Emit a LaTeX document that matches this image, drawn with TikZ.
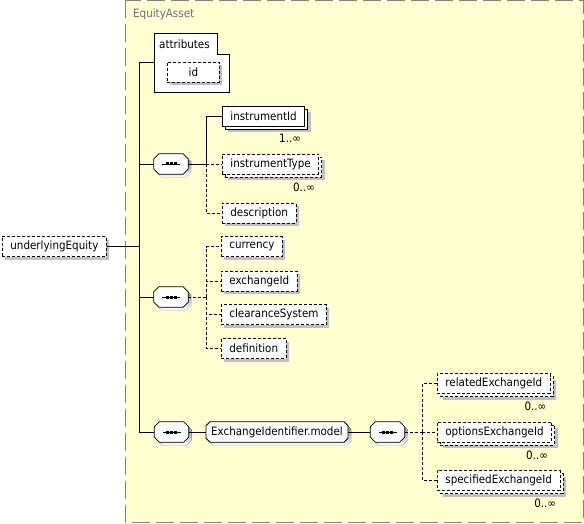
\documentclass[tikz,border=0pt]{standalone}
\usepackage{fontspec}
\setmainfont{DejaVu Sans Condensed}
\usetikzlibrary{shadows,backgrounds}

\definecolor{panel}{RGB}{255,255,208}
\definecolor{panelline}{RGB}{128,128,128}
\definecolor{shade}{RGB}{192,192,192}
\definecolor{titlegray}{RGB}{110,110,130}

\tikzset{
  box/.style={draw, fill=white, line width=.8pt, anchor=west, minimum height=20pt,
    inner xsep=8pt, inner ysep=0pt},
  elem/.style={box, drop shadow={shadow xshift=3pt, shadow yshift=-3pt, fill=shade, opacity=1}},
  optelem/.style={elem, dash pattern=on 3pt off 2pt},
  manyelem/.style={box,
    drop shadow={shadow xshift=6pt, shadow yshift=-6pt, fill=shade, opacity=1},
    copy shadow={shadow xshift=3pt, shadow yshift=-3pt, fill=white, draw=black, solid}},
  optmanyelem/.style={box, dash pattern=on 3pt off 2pt,
    drop shadow={shadow xshift=6pt, shadow yshift=-6pt, fill=shade, opacity=1},
    copy shadow={shadow xshift=3pt, shadow yshift=-3pt, fill=white, draw=black, dash pattern=on 3pt off 2pt}},
  seq/.style={minimum width=34pt, minimum height=20pt, inner sep=0pt},
  group/.style={anchor=west, minimum height=20pt, inner xsep=5pt, inner ysep=0pt},
  mult/.style={anchor=north east, inner sep=0pt},
  link/.style={line width=.8pt},
  optlink/.style={line width=.8pt, dash pattern=on 3pt off 2pt}
}

% chamfered outline round a node
\newcommand{\chamferpath}[2]{([xshift=#2]#1.north west) -- ([xshift=-#2]#1.north east)
  -- ([yshift=-#2]#1.north east) -- ([yshift=#2]#1.south east)
  -- ([xshift=-#2]#1.south east) -- ([xshift=#2]#1.south west)
  -- ([yshift=#2]#1.south west) -- ([yshift=-#2]#1.north west) -- cycle}
\newcommand{\chamfer}[2]{%
  \fill[shade, transform canvas={shift={(3pt,-3pt)}}] \chamferpath{#1}{#2};
  \filldraw[fill=white, line width=.8pt] \chamferpath{#1}{#2};}

\begin{document}
\begin{tikzpicture}[x=1pt, y=-1pt, font=\fontsize{11.5}{14}\selectfont]
 \useasboundingbox (0,0) rectangle (584,524);
 \node[anchor=west, inner sep=0pt, text=titlegray] (title) at (133,14) {EquityAsset};

 % attributes
 \draw[fill=white, line width=.8pt] (154,33) -- (217,33) -- (217,54) -- (229,54) -- (229,92) -- (154,92) -- cycle;
 \node[anchor=west, inner sep=0pt] (attributes) at (159,44) {attributes};
 \node[optelem, minimum width=52pt] (id) at (167,72) {id};
 \coordinate (attrin) at (154,62);

 % root element
 \node[optelem] (underlyingEquity) at (2,246.5) {underlyingEquity};

 % sequences
 \node[seq] (seqA) at (171,164) {};
 \node[seq] (seqB) at (171,297) {};
 \node[seq] (seqC) at (171.5,432) {};
 \node[seq] (seqD) at (387.5,432) {};
 \foreach \s in {seqA,seqB,seqC,seqD}
 {
     \draw[link] ([xshift=-9pt]\s.center) -- ([xshift=9pt]\s.center);
     \foreach \d in {-4,0,4}
         \fill ([xshift=\d pt]\s.center) +(-1.5,-1.5) rectangle +(1.5,1.5);
 }

 % first sequence
 \node[manyelem] (instrumentId) at (222,116) {instrumentId};
 \node[mult] at ([xshift=-4pt, yshift=-8pt]instrumentId.south east) {1..∞};
 \node[optmanyelem] (instrumentType) at (222,164) {instrumentType};
 \node[mult] at ([xshift=-4pt, yshift=-8pt]instrumentType.south east) {0..∞};
 \node[optelem] (description) at (222,213) {description};

 % second sequence
 \node[optelem] (currency) at (221,246.5) {currency};
 \node[optelem] (exchangeId) at (221,281) {exchangeId};
 \node[optelem] (clearanceSystem) at (221,314.5) {clearanceSystem};
 \node[optelem] (definition) at (221,348.5) {definition};

 % group
 \node[group] (model) at (206,432) {ExchangeIdentifier.model};
 \node[optmanyelem] (relatedExchangeId) at (437,383.5) {relatedExchangeId};
 \node[mult] at ([xshift=-4pt, yshift=-8pt]relatedExchangeId.south east) {0..∞};
 \node[optmanyelem] (optionsExchangeId) at (437,432) {optionsExchangeId};
 \node[mult] at ([xshift=-4pt, yshift=-8pt]optionsExchangeId.south east) {0..∞};
 \node[optmanyelem] (specifiedExchangeId) at (437,480.5) {specifiedExchangeId};
 \node[mult] at ([xshift=-4pt, yshift=-8pt]specifiedExchangeId.south east) {0..∞};

 % trunk
 \coordinate (trunktop) at (139,62);
 \coordinate (trunkend) at (139,432);
 \draw[link] (attrin) -- (trunktop) -- (trunkend) -- (seqC);
 \draw[link] (underlyingEquity) -- (trunktop |- underlyingEquity);
 \draw[link] (trunktop |- seqA) -- (seqA);
 \draw[link] (trunktop |- seqB) -- (seqB);

 % forks
 \coordinate (forkA) at (206,164);
 \draw[link] (seqA) -- (forkA) |- (instrumentId);
 \draw[optlink] (forkA) -- (instrumentType);
 \draw[optlink] (forkA) |- (description);

 \coordinate (forkB) at (206,297);
 \draw[optlink] (seqB) -- (forkB);
 \foreach \e in {currency,exchangeId,clearanceSystem,definition}
     \draw[optlink] (forkB) |- (\e);

 \draw[link] (seqC) -- (model);
 \draw[link] (model) -- (seqD);
 \coordinate (forkD) at (422,432);
 \draw[optlink] (seqD) -- (forkD);
 \foreach \e in {relatedExchangeId,optionsExchangeId,specifiedExchangeId}
     \draw[optlink] (forkD) |- (\e);

 \begin{pgfonlayer}{background}
 % complex type panel
 \draw[panelline, fill=panel, line width=1pt, dash pattern=on 18pt off 6pt]
   (125.5,0.5) rectangle (583,522.5);
 \foreach \s in {seqA,seqB,seqC,seqD}
 {
     \chamfer{\s}{5pt}
 }
 \chamfer{model}{4pt}
 \end{pgfonlayer}
\end{tikzpicture}
\end{document}
